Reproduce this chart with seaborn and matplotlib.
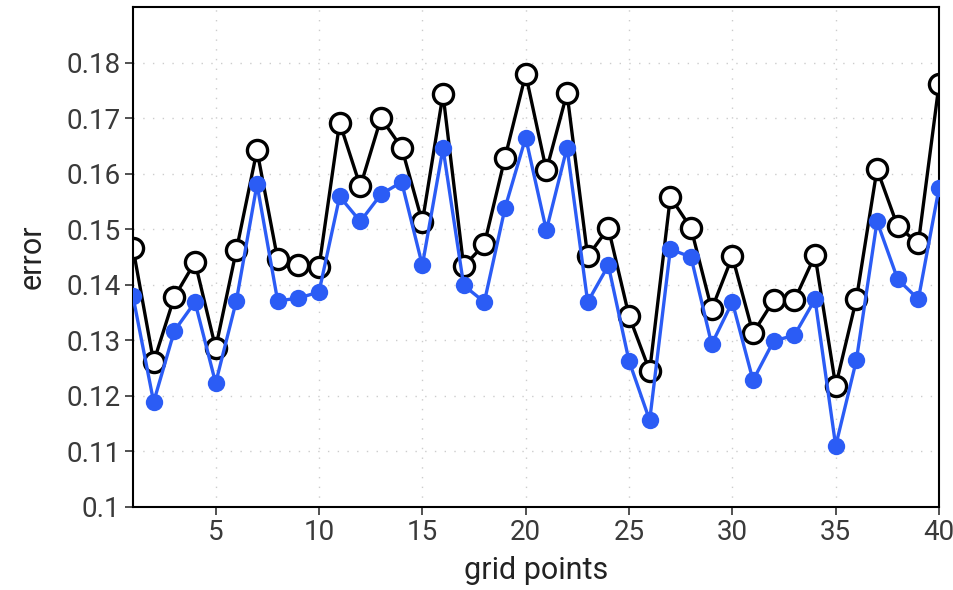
import matplotlib
matplotlib.use("Agg")
import matplotlib.pyplot as plt
import seaborn as sns
import pandas as pd
import numpy as np

grid_points = list(range(1, 41))
error_black = [0.1466, 0.1261, 0.1378, 0.1441, 0.1286, 0.1462, 0.1642, 0.1446, 0.1435, 0.1432,
               0.1692, 0.1577, 0.1700, 0.1647, 0.1513, 0.1743, 0.1433, 0.1473, 0.1629, 0.1779,
               0.1606, 0.1745, 0.1451, 0.1502, 0.1344, 0.1245, 0.1558, 0.1502, 0.1356, 0.1451,
               0.1313, 0.1372, 0.1372, 0.1453, 0.1218, 0.1374, 0.1608, 0.1505, 0.1475, 0.1761]
error_blue = [0.1379, 0.1189, 0.1317, 0.1369, 0.1223, 0.1371, 0.1581, 0.1371, 0.1376, 0.1387,
              0.1559, 0.1514, 0.1563, 0.1585, 0.1435, 0.1646, 0.1399, 0.1369, 0.1538, 0.1665,
              0.1498, 0.1647, 0.1369, 0.1435, 0.1263, 0.1156, 0.1464, 0.1450, 0.1293, 0.1369,
              0.1228, 0.1299, 0.1309, 0.1374, 0.1110, 0.1264, 0.1514, 0.1410, 0.1374, 0.1574]
x_ticks = [5, 10, 15, 20, 25, 30, 35, 40]
y_ticks = [0.1, 0.11, 0.12, 0.13, 0.14, 0.15, 0.16, 0.17, 0.18]
y_ticklabels = ["0.1", "0.11", "0.12", "0.13", "0.14", "0.15", "0.16", "0.17", "0.18"]

sns.set_theme(style="white")
plt.rcParams['font.family'] = ['Roboto', 'DejaVu Sans']

df = pd.DataFrame({"grid points": grid_points, "black": error_black, "blue": error_blue})

fig = plt.figure(figsize=(9.54, 5.9), dpi=100)
ax = fig.add_axes([0.1394, 0.1407, 0.8449, 0.8473])

sns.lineplot(data=df, x="grid points", y="black", ax=ax, color="black", linewidth=2.4,
             marker="o", markersize=14.5, markerfacecolor="white", markeredgecolor="black",
             markeredgewidth=2.4, zorder=2)
sns.lineplot(data=df, x="grid points", y="blue", ax=ax, color="#2b5cf5", linewidth=2.4,
             marker="o", markersize=12.5, markerfacecolor="#2b5cf5", markeredgecolor="#2b5cf5",
             markeredgewidth=0, zorder=3)

ax.set_xlim(1, 40)
ax.set_ylim(0.1, 0.19)
ax.set_xticks(x_ticks)
ax.set_yticks(y_ticks)
ax.set_yticklabels(y_ticklabels)
ax.grid(True, linestyle=(0, (1, 6)), color="#cccccc", linewidth=1.0)
ax.set_axisbelow(True)

for s in ax.spines.values():
    s.set_color("black")
    s.set_linewidth(1.5)

ax.tick_params(axis="both", direction="out", length=6, width=1.2, color="#333333",
               labelsize=20, labelcolor="#3a3a3a", left=True, bottom=True, pad=3)
ax.set_xlabel("grid points", fontsize=22, color="#222222", labelpad=7)
ax.set_ylabel("error", fontsize=22, color="#222222", labelpad=14)

fig.savefig("out.png", dpi=100)
